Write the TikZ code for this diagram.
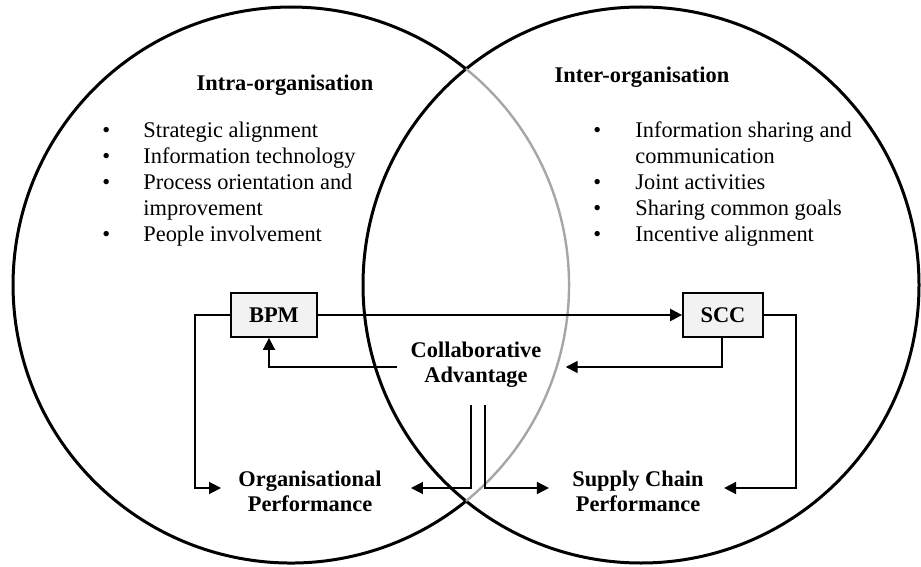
\documentclass[tikz,border=0pt]{standalone}
\usepackage{fontspec}
\setmainfont{Liberation Serif}
\definecolor{boxgray}{HTML}{F2F2F2}
\definecolor{arcgray}{HTML}{A6A6A6}
\usepackage{tikz}
\usetikzlibrary{arrows.meta,shadows}

\tikzset{
  zone/.style={line width=1.5pt},
  cabox/.style={draw, line width=0.9pt, fill=boxgray, minimum height=22pt,
    font=\fontsize{11.2}{13}\selectfont\bfseries,
    drop shadow={shadow xshift=0.4pt, shadow yshift=-0.7pt, opacity=0.35}},
  heading/.style={font=\fontsize{11.2}{12.5}\selectfont\bfseries, align=center, inner sep=0pt},
  itemlist/.style={anchor=base west, inner sep=0pt, font=\fontsize{11.2}{13}\selectfont},
  flow/.style={line width=1.2pt, -{Triangle[length=6pt,width=6pt]}},
  loopline/.style={line width=0.9pt, -{Triangle[length=6pt,width=6pt]}},
}

\begin{document}
\begin{tikzpicture}[x=0.5pt,y=-0.5pt]
        \useasboundingbox (0,0) rectangle (921,567);

        % Zones
        \draw[zone] (641,285) circle (139pt);
        \draw[zone] (466,69) arc[start angle=51, end angle=309, radius=139pt];
        \draw[zone, arcgray, line width=1.2pt] (466,501) arc[start angle=-51, end angle=51, radius=139pt];

        % Headings
        \node[heading] (intra) at (285,85) {Intra-organisation};
        \node[heading] (inter) at (642,77) {Inter-organisation};

        % Lists
        \node[itemlist] (intralist) at (102,138) {\begin{tabular}[t]{@{}p{20.5pt}@{}l@{}}
            \textbullet & Strategic alignment\\
            \textbullet & Information technology\\
            \textbullet & Process orientation and\\
                        & improvement\\
            \textbullet & People involvement
          \end{tabular}};
        \node[itemlist] (interlist) at (593,138) {\begin{tabular}[t]{@{}p{21pt}@{}l@{}}
            \textbullet & Information sharing and\\
                        & communication\\
            \textbullet & Joint activities\\
            \textbullet & Sharing common goals\\
            \textbullet & Incentive alignment
          \end{tabular}};

        % Boxes and labels
        \node[cabox, minimum width=43pt] (bpm) at (274,315) {BPM};
        \node[cabox, minimum width=40pt] (scc) at (723,315) {SCC};
        \node[heading] (ca) at (476,365) {Collaborative\\Advantage};
        \node[heading] (op) at (310,491) {Organisational\\Performance};
        \node[heading] (scp) at (638,491) {Supply Chain\\Performance};

        % Links
        \draw[flow] (bpm.east) -- (scc.west);
        \draw[loopline] (bpm.west) -- ++(-35,0) |- ([xshift=-8.5pt,yshift=1.5pt]op.west);
        \draw[loopline] (scc.east) -- ++(32,0) |- ([xshift=10pt,yshift=1.5pt]scp.east);
        \draw[loopline] ([xshift=-0.5pt]scc.south) |- ([xshift=12pt,yshift=-1pt]ca.east);
        \draw[loopline] ([xshift=-6.5pt,yshift=-1pt]ca.west) -| ([xshift=-2.5pt]bpm.south);
        \draw[loopline] ([xshift=-2.5pt,yshift=-8.5pt]ca.south) |- ([xshift=14.5pt,yshift=1.5pt]op.east);
        \draw[loopline] ([xshift=4.5pt,yshift=-8.5pt]ca.south) |- ([xshift=-11.5pt,yshift=1.5pt]scp.west);
\end{tikzpicture}
\end{document}
